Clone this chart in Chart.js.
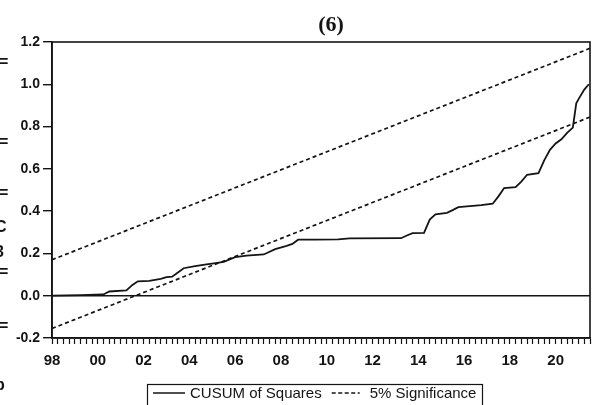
<!DOCTYPE html>
<html>
<head>
<meta charset="utf-8">
<script src="https://cdn.jsdelivr.net/npm/chart.js@4.4.1/dist/chart.umd.min.js"></script>
<style>
    html, body { margin: 0; padding: 0; background: #fff; }
</style>
</head>
<body>
<canvas id="cusumChart" width="592" height="405"></canvas>
<script>
// CUSUM of squares (x = year)
const years = [1998, 1999.25, 2000.25, 2000.5, 2001.25, 2001.5, 2001.75, 2002.25, 2002.75, 2003, 2003.25, 2003.5,
    2003.75, 2004.25, 2004.75, 2005, 2005.5, 2006, 2006.5, 2007.25, 2007.75, 2008.25, 2008.5, 2008.75, 2009.5,
    2010.5, 2011, 2013.25, 2013.5, 2013.75, 2014.25, 2014.5, 2014.75, 2015.25, 2015.5, 2015.75, 2016.25, 2016.75,
    2017.25, 2017.5, 2017.75, 2018.25, 2018.5, 2018.75, 2019.25, 2019.5, 2019.75, 2020, 2020.25, 2020.5, 2020.75,
    2020.9, 2021, 2021.25, 2021.45];
const cusum = [0, 0.003, 0.006, 0.02, 0.025, 0.05, 0.068, 0.07, 0.08, 0.088, 0.09, 0.11,
    0.13, 0.14, 0.148, 0.152, 0.16, 0.182, 0.19, 0.195, 0.22, 0.236, 0.245, 0.265, 0.265,
    0.266, 0.271, 0.272, 0.285, 0.296, 0.297, 0.36, 0.385, 0.392, 0.405, 0.419, 0.424, 0.428,
    0.435, 0.47, 0.509, 0.514, 0.54, 0.572, 0.58, 0.64, 0.69, 0.72, 0.74, 0.77, 0.795,
    0.91, 0.93, 0.975, 1.0];

// 5% significance bounds (straight lines)
const bandYears = [1998, 2021.5];
const upperBand = [0.17, 1.17];
const lowerBand = [-0.155, 0.845];

const yTicks = [-0.2, 0, 0.2, 0.4, 0.6, 0.8, 1.0, 1.2];
const xLabelYears = [1998, 2000, 2002, 2004, 2006, 2008, 2010, 2012, 2014, 2016, 2018, 2020];
const xLabels = ["98", "00", "02", "04", "06", "08", "10", "12", "14", "16", "18", "20"];

const xMin = 1998;
const xMax = 2021.5;
const ink = "#141414";

const toPoints = (xs, ys) => xs.map((x, i) => ({ x: x, y: ys[i] }));

const quarterTicks = [];
for (let q = 0; xMin + q * 0.25 <= xMax + 1e-9; q++) quarterTicks.push(xMin + q * 0.25);

const framePlugin = {
    id: "frame",
    afterDatasetsDraw(chart) {
        const { ctx, chartArea: a } = chart;
        ctx.save();
        ctx.strokeStyle = ink;
        ctx.lineWidth = 1.6;
        ctx.strokeRect(a.left, a.top, a.right - a.left, a.bottom - a.top);
        ctx.restore();
    },
    afterDraw(chart) {
        const ctx = chart.ctx;
        ctx.save();
        // title
        ctx.fillStyle = ink;
        ctx.font = "bold 22px 'Liberation Serif', 'Times New Roman', serif";
        ctx.textAlign = "center";
        ctx.textBaseline = "middle";
        ctx.fillText("(6)", 331, 25);

        // cut-off bits of the neighbouring panel on the left
        ctx.font = "bold 16px 'Liberation Sans', Arial, sans-serif";
        ctx.textAlign = "left";
        [["=", 63], ["=", 143], ["=", 194], ["C", 228], ["3", 253], ["=", 273], ["=", 327], ["p", 386]]
            .forEach(([t, y]) => ctx.fillText(t, t === "=" ? -1 : -5, y));

        // legend box
        ctx.lineWidth = 1.2;
        ctx.strokeStyle = ink;
        ctx.strokeRect(147.5, 384.5, 335, 30);
        ctx.font = "15px 'Liberation Sans', Arial, sans-serif";
        ctx.textBaseline = "alphabetic";
        const ly = 393;
        let x = 153;
        ctx.lineWidth = 1.5;
        ctx.beginPath();
        ctx.moveTo(x, ly);
        ctx.lineTo(x + 32, ly);
        ctx.stroke();
        x += 37;
        ctx.fillText("CUSUM of Squares", x, 398);
        x += ctx.measureText("CUSUM of Squares").width + 10;
        ctx.setLineDash([4, 2.5]);
        ctx.beginPath();
        ctx.moveTo(x, ly);
        ctx.lineTo(x + 28, ly);
        ctx.stroke();
        ctx.setLineDash([]);
        x += 38;
        ctx.fillText("5% Significance", x, 398);
        ctx.restore();
    }
};

const data = {
    datasets: [
        {
            label: "CUSUM of Squares",
            data: toPoints(years, cusum),
            borderColor: ink,
            borderWidth: 1.8,
            pointRadius: 0,
            fill: false,
        },
        {
            label: "5% Significance",
            data: toPoints(bandYears, upperBand),
            borderColor: ink,
            borderWidth: 1.7,
            borderDash: [4, 3],
            pointRadius: 0,
            fill: false,
        },
        {
            label: "5% Significance (lower)",
            data: toPoints(bandYears, lowerBand),
            borderColor: ink,
            borderWidth: 1.7,
            borderDash: [4, 3],
            pointRadius: 0,
            fill: false,
        },
    ],
};

const config = {
    type: "line",
    data: data,
    options: {
        responsive: false,
        animation: false,
        layout: { padding: { top: 42, right: 2, left: 0, bottom: 0 } },
        plugins: {
            legend: { display: false },
            tooltip: { enabled: false },
        },
        scales: {
            x: {
                type: "linear",
                min: xMin,
                max: xMax,
                afterBuildTicks: (s) => { s.ticks = quarterTicks.map((v) => ({ value: v })); },
                afterFit: (s) => {
                    s.height = 67;
                    s.paddingLeft = 0;
                    s.paddingRight = 0;
                },
                ticks: {
                    autoSkip: false,
                    maxRotation: 0,
                    padding: 8,
                    color: ink,
                    font: { family: "'Liberation Sans', Arial, sans-serif", size: 15, weight: "bold" },
                    callback: (v) => {
                        const i = xLabelYears.indexOf(v);
                        return i >= 0 ? xLabels[i] : "";
                    },
                },
                grid: { drawOnChartArea: false, tickLength: 6, tickColor: ink, tickWidth: 1.2 },
                border: { color: ink, width: 1.6 },
            },
            y: {
                min: -0.2,
                max: 1.2,
                afterBuildTicks: (s) => { s.ticks = yTicks.map((v) => ({ value: v })); },
                afterFit: (s) => { s.width = 52; },
                ticks: {
                    padding: 3,
                    color: ink,
                    font: { family: "'Liberation Sans', Arial, sans-serif", size: 14, weight: "bold" },
                    callback: (v) => v.toFixed(1),
                },
                grid: {
                    drawOnChartArea: true,
                    color: (c) => (c.tick && Math.abs(c.tick.value) < 1e-9 ? ink : "rgba(0,0,0,0)"),
                    lineWidth: 1.4,
                    tickLength: 9,
                    tickColor: ink,
                    tickWidth: 1.4,
                },
                border: { color: ink, width: 1.6 },
            },
        },
    },
    plugins: [framePlugin],
};

new Chart(document.getElementById("cusumChart").getContext("2d"), config);
</script>
</body>
</html>
